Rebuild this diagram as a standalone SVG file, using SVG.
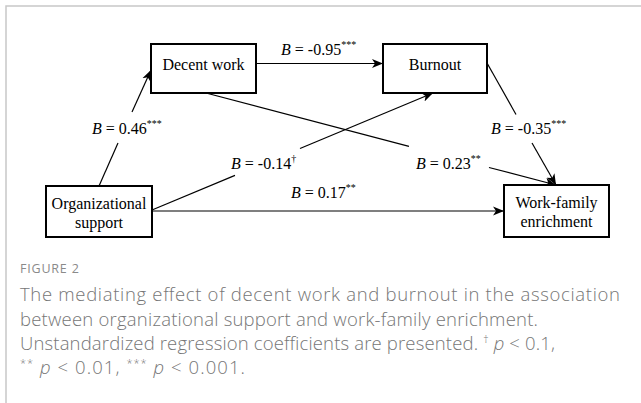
<svg xmlns="http://www.w3.org/2000/svg" width="641" height="403" viewBox="0 0 641 403">
<style>
.box{fill:#fff;stroke:#000;stroke-width:2}
.lbl{font-family:"Liberation Serif","Times New Roman",serif;font-size:16px;fill:#000}
.nt{font-family:"Liberation Serif","Times New Roman",serif;font-size:16px;fill:#000;text-anchor:middle}
.ln{stroke:#000;stroke-width:1.2;fill:none}
.sup{font-size:10px}
.cap{font-family:"Open Sans","Liberation Sans",sans-serif;font-size:18.5px;font-weight:300;fill:#767676}
.fig{font-family:"Open Sans","Liberation Sans",sans-serif;font-size:12.5px;fill:#8a8a8a;letter-spacing:0.8px}
</style>
<defs>
<marker id="ah" markerWidth="12" markerHeight="10" refX="11" refY="5" orient="auto" markerUnits="userSpaceOnUse">
<path d="M0,0.5 L11,5 L0,9.5 L3,5 z" fill="#000"/>
</marker>
</defs>
<rect x="0" y="0" width="641" height="403" fill="#fff"/>
<path d="M6,403 V6 H641" fill="none" stroke="#c8c8c8" stroke-width="1.5"/>
<g id="connectors">
<line class="ln" x1="256" y1="63.5" x2="383" y2="63.5" marker-end="url(#ah)"/>
<line class="ln" x1="99" y1="186" x2="118" y2="143"/>
<line class="ln" x1="132" y1="112" x2="151" y2="70" marker-end="url(#ah)"/>
<line class="ln" x1="152" y1="210" x2="235" y2="175.4"/>
<line class="ln" x1="300" y1="148.5" x2="433" y2="93" marker-end="url(#ah)"/>
<line class="ln" x1="206" y1="93" x2="409" y2="146.4"/>
<line class="ln" x1="489" y1="167.5" x2="556" y2="185" marker-end="url(#ah)"/>
<line class="ln" x1="487" y1="63" x2="516" y2="114.5"/>
<line class="ln" x1="532" y1="143" x2="556" y2="185" marker-end="url(#ah)"/>
<line class="ln" x1="152" y1="211" x2="504" y2="211" marker-end="url(#ah)"/>
<text class="lbl" x="281" y="55"><tspan font-style="italic">B</tspan> = -0.95<tspan class="sup" dy="-7">***</tspan></text>
<text class="lbl" x="92" y="134"><tspan font-style="italic">B</tspan> = 0.46<tspan class="sup" dy="-7">***</tspan></text>
<text class="lbl" x="231" y="169"><tspan font-style="italic">B</tspan> = -0.14<tspan class="sup" dy="-7">†</tspan></text>
<text class="lbl" x="416" y="169"><tspan font-style="italic">B</tspan> = 0.23<tspan class="sup" dy="-7">**</tspan></text>
<text class="lbl" x="491" y="134"><tspan font-style="italic">B</tspan> = -0.35<tspan class="sup" dy="-7">***</tspan></text>
<text class="lbl" x="291" y="198"><tspan font-style="italic">B</tspan> = 0.17<tspan class="sup" dy="-7">**</tspan></text>
</g>
<g id="decent-work">
<rect class="box" x="151" y="44" width="105" height="49"/>
<text class="nt" x="203.5" y="70">Decent work</text>
</g>
<g id="burnout">
<rect class="box" x="383" y="44" width="104" height="49"/>
<text class="nt" x="435" y="70">Burnout</text>
</g>
<g id="organizational-support">
<rect class="box" x="46" y="186" width="106" height="51"/>
<text class="nt" x="99" y="209">Organizational</text>
<text class="nt" x="99" y="228">support</text>
</g>
<g id="work-family-enrichment">
<rect class="box" x="504" y="185" width="105" height="52"/>
<text class="nt" x="556.5" y="208">Work-family</text>
<text class="nt" x="556.5" y="227">enrichment</text>
</g>
<g id="caption">
<text class="fig" x="20" y="273">FIGURE 2</text>
<text class="cap" x="20" y="301" textLength="600" lengthAdjust="spacing">The mediating effect of decent work and burnout in the association</text>
<text class="cap" x="20" y="326" textLength="518" lengthAdjust="spacing">between organizational support and work-family enrichment.</text>
<text class="cap" x="20" y="350" textLength="535" lengthAdjust="spacing">Unstandardized regression coefficients are presented. <tspan font-size="11" dy="-7">†</tspan><tspan dy="7"> </tspan><tspan font-style="italic">p</tspan> &lt; 0.1,</text>
<text class="cap" x="20" y="374" textLength="225" lengthAdjust="spacing"><tspan font-size="11" dy="-7">**</tspan><tspan dy="7"> </tspan><tspan font-style="italic">p</tspan> &lt; 0.01, <tspan font-size="11" dy="-7">***</tspan><tspan dy="7"> </tspan><tspan font-style="italic">p</tspan> &lt; 0.001.</text>
</g>
</svg>
